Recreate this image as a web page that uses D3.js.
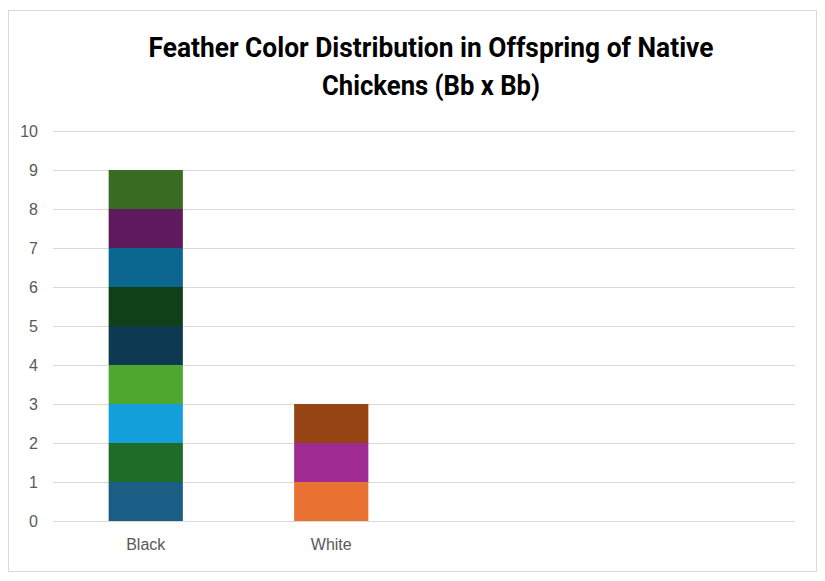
<!DOCTYPE html>
<html>
<head>
<meta charset="utf-8">
<script src="https://cdn.jsdelivr.net/npm/d3@7"></script>
<style>
  body { margin: 0; background: #fff; }
  svg { display: block; }
</style>
</head>
<body>
<div id="chart"></div>
<script>
// chart values
var categories = ["Black", "White", "", ""];
// one series per stacked segment, in the order Excel drew them
var seriesNames = ["S1", "S2", "S3", "S4", "S5", "S6", "S7", "S8", "S9", "S10", "S11", "S12"];
var seriesCategory = [0, 1, 0, 0, 1, 0, 0, 1, 0, 0, 0, 0];
var seriesValues = [1, 1, 1, 1, 1, 1, 1, 1, 1, 1, 1, 1];
var seriesColors = ["#1a5e86", "#e97132", "#1e6c27", "#13a0da", "#a02b93", "#4ea72e",
                    "#0d3a50", "#974414", "#104018", "#0b6690", "#5e1a5c", "#3a6b22"];
var yTicks = [0, 1, 2, 3, 4, 5, 6, 7, 8, 9, 10];
var titleLines = ["Feather Color Distribution in Offspring of Native", "Chickens (Bb x Bb)"];
var titleWidths = [565, 218];

var svgWidth = 825;
var svgHeight = 581;

var chartMargin = { top: 131, right: 30, bottom: 60, left: 53 };
var chartWidth = 795 - chartMargin.left;
var chartHeight = 521 - chartMargin.top;

var svg = d3.select("#chart")
    .append("svg")
    .attr("width", svgWidth)
    .attr("height", svgHeight);

// chart area border
svg.append("rect")
    .attr("x", 8.5)
    .attr("y", 10.5)
    .attr("width", 808)
    .attr("height", 561)
    .attr("fill", "#fff")
    .attr("stroke", "#d9d9d9");

// title (squeezed a bit to look like the narrow Office font)
svg.append("g")
    .selectAll("text")
    .data(titleLines)
    .enter()
    .append("text")
    .attr("text-anchor", "middle")
    .attr("font-family", "Roboto, sans-serif")
    .attr("font-weight", "bold")
    .attr("font-size", 27)
    .attr("fill", "#000")
    .attr("x", 431)
    .attr("y", (d, i) => 57 + i * 38)
    .attr("textLength", (d, i) => titleWidths[i])
    .attr("lengthAdjust", "spacingAndGlyphs")
    .text(d => d);

var chartGroup = svg.append("g")
    .attr("transform", `translate(${chartMargin.left}, ${chartMargin.top})`);

var xScale = d3.scaleBand()
    .domain(categories.map((d, i) => i))
    .range([0, chartWidth])
    .paddingInner(0.6)
    .paddingOuter(0.3);

var yScale = d3.scaleLinear()
    .domain([0, 10])
    .range([chartHeight, 0]);

// gridlines
chartGroup.append("g")
    .selectAll("line")
    .data(yTicks)
    .enter()
    .append("line")
    .attr("x1", 0)
    .attr("x2", chartWidth)
    .attr("y1", d => Math.round(yScale(d)) + 0.5)
    .attr("y2", d => Math.round(yScale(d)) + 0.5)
    .attr("stroke", "#d9d9d9")
    .attr("stroke-width", 1);

// stacked segments
var tops = categories.map(() => 0);
var segments = seriesValues.map(function(v, i) {
    var c = seriesCategory[i];
    var seg = { name: seriesNames[i], cat: c, y0: tops[c], y1: tops[c] + v, color: seriesColors[i] };
    tops[c] += v;
    return seg;
});

chartGroup.append("g")
    .selectAll("rect")
    .data(segments)
    .enter()
    .append("rect")
    .attr("x", d => xScale(d.cat))
    .attr("width", xScale.bandwidth())
    .attr("y", d => yScale(d.y1))
    .attr("height", d => yScale(d.y0) - yScale(d.y1))
    .attr("fill", d => d.color);

// y axis labels
var leftAxis = d3.axisLeft(yScale).tickValues(yTicks).tickSize(0).tickPadding(15);
var yAxis = chartGroup.append("g").call(leftAxis);
yAxis.select(".domain").remove();
yAxis.selectAll("text")
    .attr("font-family", "'Liberation Sans', Arial, sans-serif")
    .attr("font-size", 16)
    .attr("fill", "#595959");

// x axis labels
var bottomAxis = d3.axisBottom(xScale).tickFormat(i => categories[i]).tickSize(0).tickPadding(18);
var xAxis = chartGroup.append("g")
    .attr("transform", `translate(0, ${chartHeight})`)
    .call(bottomAxis);
xAxis.select(".domain").remove();
xAxis.selectAll("text")
    .attr("font-family", "'Liberation Sans', Arial, sans-serif")
    .attr("font-size", 16)
    .attr("fill", "#595959");
</script>
</body>
</html>
